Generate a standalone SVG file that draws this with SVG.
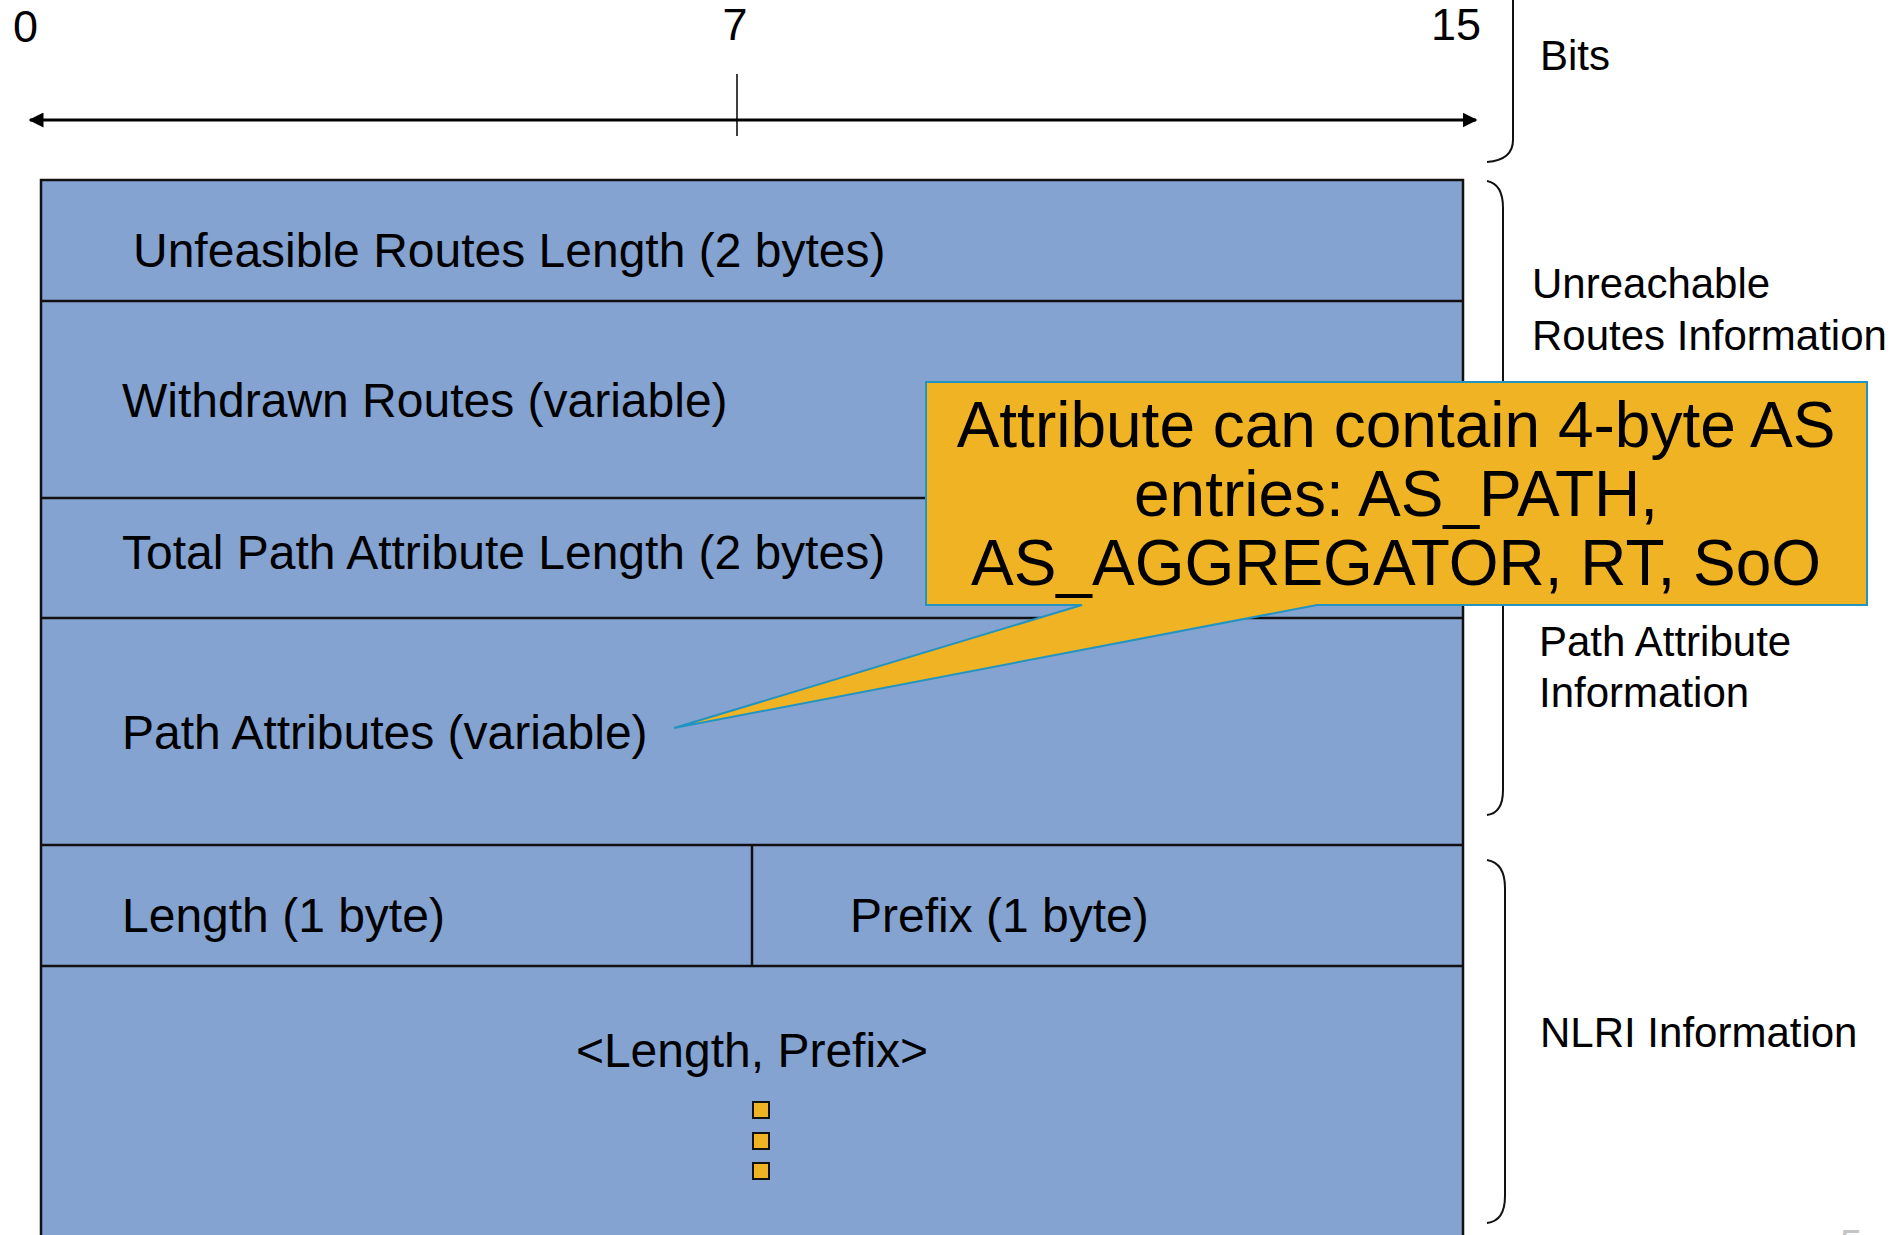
<svg xmlns="http://www.w3.org/2000/svg" width="1901" height="1235" viewBox="0 0 1901 1235">
  <style>
    text { font-family: "Liberation Sans", Arial, sans-serif; fill: #000; }
    .num { font-size: 45px; }
    .side { font-size: 42px; }
    .field { font-size: 48px; }
    .note { font-size: 64px; }
    .cell { fill: #84A3D1; stroke: #111; stroke-width: 2.5; }
    .rule { stroke: #111; stroke-width: 2.5; fill: none; }
    .brace { stroke: #111; stroke-width: 2; fill: none; }
    .dot { fill: #F0B323; stroke: #111; stroke-width: 2; }
  </style>
  <defs>
    <marker id="head" viewBox="0 0 10 10" refX="9" refY="5" markerWidth="5" markerHeight="5" orient="auto-start-reverse" markerUnits="strokeWidth">
      <path d="M0,0 L10,5 L0,10 Z" fill="#000"/>
    </marker>
  </defs>
  <rect width="1901" height="1235" fill="#fff"/>

  <!-- bit ruler -->
  <g id="ruler">
    <text class="num" x="13" y="42">0</text>
    <text class="num" x="735" y="40" text-anchor="middle">7</text>
    <text class="num" x="1481" y="40" text-anchor="end">15</text>
    <line x1="30" y1="120" x2="1476" y2="120" stroke="#000" stroke-width="3" marker-start="url(#head)" marker-end="url(#head)"/>
    <line x1="737" y1="74" x2="737" y2="136" stroke="#000" stroke-width="1.5"/>
  </g>

  <!-- message fields -->
  <g id="fields">
    <rect class="cell" x="41" y="180" width="1422" height="1080"/>
    <line class="rule" x1="41" y1="301" x2="1463" y2="301"/>
    <line class="rule" x1="41" y1="498" x2="1463" y2="498"/>
    <line class="rule" x1="41" y1="618" x2="1463" y2="618"/>
    <line class="rule" x1="41" y1="845" x2="1463" y2="845"/>
    <line class="rule" x1="41" y1="966" x2="1463" y2="966"/>
    <line class="rule" x1="752" y1="845" x2="752" y2="966" stroke-width="2"/>
  </g>
  <g id="unfeasible-length"><text class="field" x="133" y="267">Unfeasible Routes Length (2 bytes)</text></g>
  <g id="withdrawn-routes"><text class="field" x="122" y="417">Withdrawn Routes (variable)</text></g>
  <g id="total-path-length"><text class="field" x="122" y="569">Total Path Attribute Length (2 bytes)</text></g>
  <g id="path-attributes"><text class="field" x="122" y="749">Path Attributes (variable)</text></g>
  <g id="nlri-length"><text class="field" x="122" y="932">Length (1 byte)</text></g>
  <g id="nlri-prefix"><text class="field" x="850" y="932">Prefix (1 byte)</text></g>
  <g id="nlri-entries">
    <text class="field" x="752" y="1067" text-anchor="middle">&lt;Length, Prefix&gt;</text>
    <rect class="dot" x="753" y="1102" width="16" height="16"/>
    <rect class="dot" x="753" y="1133" width="16" height="16"/>
    <rect class="dot" x="753" y="1163" width="16" height="16"/>
  </g>

  <!-- braces and section labels -->
  <g id="bits-label">
    <path class="brace" d="M1513,0 L1513,140 Q1513,160 1487,162"/>
    <text class="side" x="1540" y="70">Bits</text>
  </g>
  <g id="unreachable-label">
    <path class="brace" d="M1487,181 Q1503,184 1503,208 L1503,790 Q1503,813 1487,815"/>
    <text class="side" x="1532" y="298">Unreachable</text>
    <text class="side" x="1532" y="350">Routes Information</text>
  </g>
  <g id="path-attr-label">
    <text class="side" x="1539" y="656">Path Attribute</text>
    <text class="side" x="1539" y="707">Information</text>
  </g>
  <g id="nlri-label">
    <path class="brace" d="M1487,860 Q1505,863 1505,888 L1505,1196 Q1505,1221 1487,1223"/>
    <text class="side" x="1540" y="1047">NLRI Information</text>
  </g>

  <!-- callout pointing at the path attributes field -->
  <g id="connectors">
    <path d="M926,382 H1867 V605 H1317 L674,728 L1082,605 H926 Z" fill="#F0B323" stroke="#2394C0" stroke-width="2"/>
  </g>
  <g id="callout">
    <text class="note" x="1396" y="447" text-anchor="middle">Attribute can contain 4-byte AS</text>
    <text class="note" x="1396" y="516" text-anchor="middle">entries: AS_PATH,</text>
    <text class="note" x="1396" y="585" text-anchor="middle">AS_AGGREGATOR, RT, SoO</text>
  </g>

  <!-- slide number, mostly below the bottom edge -->
  <text x="1840" y="1258" font-size="40" style="fill:#c4c4c4">5</text>
</svg>
